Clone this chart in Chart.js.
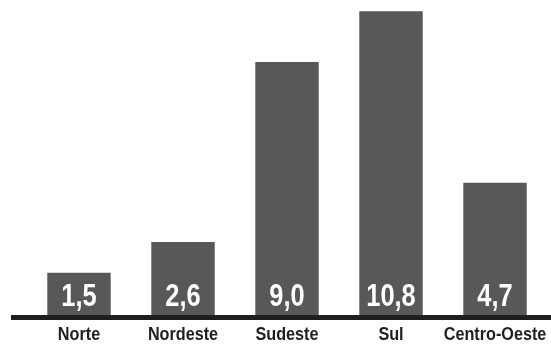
<!DOCTYPE html>
<html>
<head>
<meta charset="utf-8">
<script src="https://cdn.jsdelivr.net/npm/chart.js@4/dist/chart.umd.min.js"></script>
<style>
html,body{margin:0;padding:0;background:#fff;}
#wrap{width:551px;height:345px;position:relative;}
</style>
</head>
<body>
<div id="wrap"><canvas id="c" width="551" height="345"></canvas></div>
<script>
const categories = ["Norte", "Nordeste", "Sudeste", "Sul", "Centro-Oeste"];
const values = [1.5, 2.6, 9.0, 10.8, 4.7];

const FONT = "'Liberation Sans', Arial, sans-serif";

function narrowText(ctx, txt, x, y, sx) {
  ctx.save();
  ctx.translate(x, y);
  ctx.scale(sx, 1);
  ctx.fillText(txt, 0, 0);
  ctx.restore();
}

const baselinePlugin = {
  id: 'baseline',
  afterDatasetsDraw(chart) {
    const ctx = chart.ctx;
    const y0 = chart.scales.y.getPixelForValue(0);
    ctx.save();
    ctx.fillStyle = '#1e1e1e';
    ctx.fillRect(11, y0, chart.width - 11, 5);
    ctx.restore();
  }
};

const labelsPlugin = {
  id: 'labelsPlugin',
  afterDatasetsDraw(chart) {
    const ctx = chart.ctx;
    const meta = chart.getDatasetMeta(0);
    const xs = chart.scales.x;
    ctx.save();
    ctx.textAlign = 'center';
    ctx.textBaseline = 'alphabetic';
    ctx.fillStyle = '#ffffff';
    ctx.font = "bold 31px " + FONT;
    meta.data.forEach((bar, i) => {
      const txt = values[i].toFixed(1).replace('.', ',');
      narrowText(ctx, txt, bar.x, bar.base - 9, 0.82);
    });
    ctx.fillStyle = '#1f1f1f';
    ctx.font = "bold 18px " + FONT;
    categories.forEach((c, i) => {
      narrowText(ctx, c, xs.getPixelForValue(i), 340, 0.9);
    });
    ctx.restore();
  }
};

new Chart(document.getElementById('c'), {
  type: 'bar',
  data: {
    labels: categories,
    datasets: [{
      data: values,
      backgroundColor: '#585858',
      borderWidth: 0,
      categoryPercentage: 1.0,
      barPercentage: 0.61
    }]
  },
  options: {
    responsive: false,
    animation: false,
    devicePixelRatio: 1,
    layout: { padding: { left: 27, right: 4, top: 0, bottom: 30 } },
    plugins: { legend: { display: false }, tooltip: { enabled: false }, title: { display: false } },
    scales: {
      y: { display: false, min: 0, max: 11.2 },
      x: { display: false }
    }
  },
  plugins: [baselinePlugin, labelsPlugin]
});
</script>
</body>
</html>
